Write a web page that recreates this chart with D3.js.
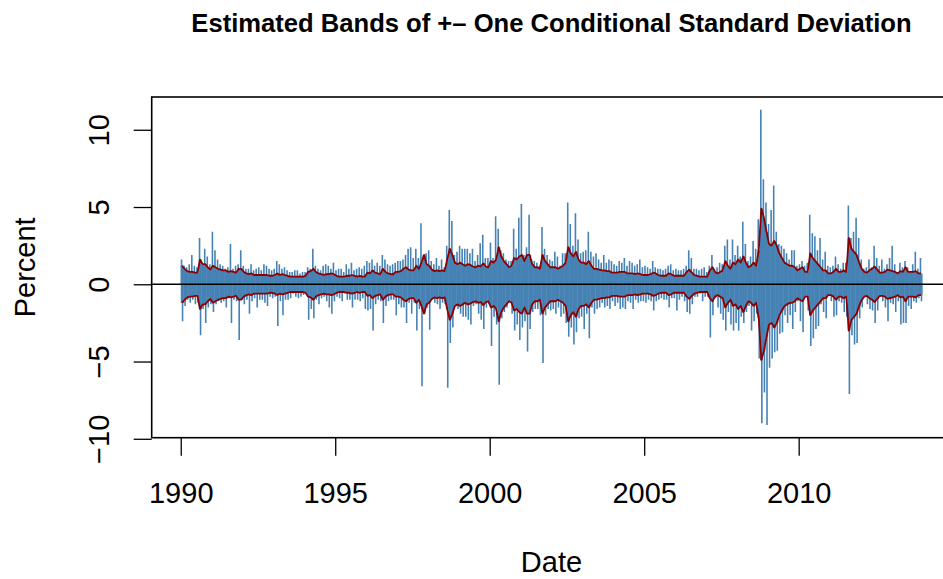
<!DOCTYPE html>
<html>
<head>
<meta charset="utf-8">
<script src="https://cdn.jsdelivr.net/npm/d3@7"></script>
<style>
  html, body { margin: 0; padding: 0; background: #ffffff; }
  svg { display: block; }
  text { font-family: "Liberation Sans", Arial, Helvetica, sans-serif; fill: #000; }
</style>
</head>
<body>
<svg id="chart" width="943" height="579"></svg>
<script>
// ---------------- data (monthly, Jan 1990 .. Dec 2013) ----------------
const startYear = 1990;
const xTickYears = [1990, 1995, 2000, 2005, 2010];
const yTickValues = [-10, -5, 0, 5, 10];
const titleText = "Estimated Bands of +\u2013 One Conditional Standard Deviation";
const xLabel = "Date";
const yLabel = "Percent";

// conditional standard deviation (percent), one value per month
const condSd = [
  1.2, 1.0, 0.85, 0.8, 0.8, 0.75, 0.75, 1.6, 1.3, 1.3, 1.1, 0.95,
  1.2, 1.1, 1.0, 0.95, 0.9, 0.9, 0.8, 0.85, 0.8, 0.75, 1.0, 1.0,
  0.8, 0.7, 0.65, 0.7, 0.6, 0.6, 0.6, 0.6, 0.6, 0.6, 0.55, 0.55,
  0.6, 0.7, 0.6, 0.65, 0.6, 0.55, 0.5, 0.5, 0.5, 0.5, 0.5, 0.5,
  0.55, 0.8, 0.85, 1.0, 0.8, 0.7, 0.65, 0.6, 0.65, 0.65, 0.7, 0.65,
  0.55, 0.5, 0.5, 0.5, 0.55, 0.55, 0.6, 0.55, 0.5, 0.55, 0.5, 0.5,
  0.75, 0.7, 0.9, 0.75, 0.7, 0.65, 1.0, 0.8, 0.7, 0.65, 0.65, 0.8,
  0.8, 0.85, 1.0, 1.1, 0.95, 0.9, 0.9, 1.2, 1.0, 1.4, 1.9, 1.3,
  1.2, 0.95, 0.85, 0.9, 0.85, 0.9, 0.85, 1.6, 2.3, 1.9, 1.4, 1.3,
  1.4, 1.3, 1.2, 1.3, 1.25, 1.15, 1.1, 1.2, 1.15, 1.35, 1.15, 1.1,
  1.5, 1.4, 1.6, 2.4, 1.8, 1.5, 1.3, 1.1, 1.2, 1.7, 1.6, 1.8,
  1.9, 1.5, 1.9, 1.9, 1.3, 1.1, 1.1, 1.0, 1.9, 1.5, 1.3, 1.1,
  1.1, 1.1, 1.0, 1.1, 1.2, 1.4, 2.4, 2.0, 1.8, 2.1, 1.6, 1.4,
  1.4, 1.3, 1.5, 1.2, 1.0, 1.0, 0.95, 0.9, 0.9, 0.85, 0.85, 0.75,
  0.75, 0.75, 0.8, 0.8, 0.8, 0.7, 0.7, 0.7, 0.65, 0.7, 0.65, 0.6,
  0.6, 0.6, 0.65, 0.75, 0.7, 0.6, 0.55, 0.55, 0.55, 0.7, 0.65, 0.55,
  0.55, 0.55, 0.55, 0.55, 0.8, 0.95, 0.75, 0.6, 0.55, 0.5, 0.5, 0.5,
  0.5, 0.9, 1.1, 0.8, 0.7, 0.8, 0.9, 1.5, 1.2, 1.0, 1.4, 1.3,
  1.6, 1.4, 1.8, 1.4, 1.1, 1.2, 1.4, 1.2, 2.2, 4.9, 4.3, 3.4,
  2.6, 2.5, 2.8, 2.5, 2.0, 1.7, 1.4, 1.3, 1.2, 1.2, 1.1, 0.9,
  1.0, 1.1, 0.8, 0.8, 2.0, 1.7, 1.5, 1.3, 1.1, 0.9, 0.9, 0.7,
  0.7, 0.8, 1.0, 0.8, 0.8, 0.9, 0.8, 3.0, 2.3, 2.1, 1.9, 1.4,
  1.0, 0.8, 0.75, 0.9, 1.0, 1.15, 0.95, 0.75, 0.75, 0.8, 0.95, 0.9,
  0.85, 0.8, 0.7, 0.85, 0.8, 1.1, 0.8, 0.8, 0.8, 0.85, 0.7, 0.7
];

// largest daily return within each month (percent)
const monthMax = [
  1.6, 1.2, 1.1, 1.3, 1.9, 1.2, 1.1, 3.0, 1.4, 2.3, 1.8, 1.3,
  3.4, 2.2, 1.6, 1.3, 1.2, 1.0, 1.1, 2.6, 1.0, 1.2, 1.3, 2.2,
  1.2, 1.0, 1.0, 1.3, 0.9, 1.0, 1.1, 0.9, 1.3, 1.2, 1.0, 0.9,
  1.0, 1.5, 1.3, 1.0, 1.1, 0.9, 0.8, 0.8, 0.9, 0.9, 0.7, 0.8,
  0.8, 1.1, 1.0, 2.3, 1.2, 1.0, 0.9, 1.2, 1.3, 1.2, 1.0, 1.4,
  0.9, 1.0, 1.0, 0.8, 1.3, 1.0, 1.4, 0.9, 1.0, 1.1, 1.0, 1.2,
  1.5, 1.4, 1.6, 1.2, 1.4, 1.2, 1.9, 1.6, 1.3, 1.2, 1.3, 1.4,
  1.5, 1.5, 1.6, 1.9, 2.3, 2.4, 1.7, 2.3, 1.7, 3.95, 1.9, 2.0,
  2.2, 1.5, 1.3, 1.7, 1.2, 1.6, 1.1, 2.5, 4.8, 4.1, 1.9, 2.1,
  2.5, 2.3, 2.3, 2.3, 2.0, 2.3, 1.5, 1.9, 2.65, 3.2, 1.7, 1.7,
  2.7, 1.7, 4.4, 3.6, 2.2, 2.0, 1.6, 1.5, 1.5, 3.6, 2.3, 4.3,
  5.2, 1.9, 2.4, 4.5, 1.6, 1.5, 1.4, 1.2, 3.7, 2.3, 1.9, 1.6,
  1.5, 2.1, 1.8, 1.2, 2.0, 2.0, 5.3, 3.9, 2.5, 4.6, 2.9, 2.0,
  2.1, 2.2, 3.4, 2.1, 1.8, 2.0, 1.6, 1.4, 1.9, 1.4, 1.6, 1.5,
  1.3, 1.2, 1.5, 1.4, 1.7, 1.2, 1.5, 1.4, 1.2, 1.3, 1.6, 1.1,
  1.2, 1.1, 1.0, 1.5, 1.1, 1.0, 1.0, 0.9, 1.0, 1.2, 1.3, 0.9,
  1.0, 0.9, 0.9, 1.0, 1.2, 2.2, 1.7, 1.0, 1.0, 0.9, 1.0, 1.1,
  0.8, 1.2, 1.9, 1.0, 1.1, 1.4, 1.3, 2.5, 2.9, 1.6, 2.9, 1.9,
  2.5, 1.8, 4.05, 2.6, 1.5, 1.8, 2.8, 2.3, 4.2, 11.3, 6.8, 5.3,
  3.9, 4.8, 6.4, 3.4, 2.6, 2.5, 2.3, 2.0, 1.6, 2.2, 2.2, 1.2,
  1.3, 1.5, 1.2, 1.4, 4.5, 3.3, 3.1, 2.2, 3.0, 1.6, 2.1, 1.2,
  1.1, 1.2, 1.8, 1.3, 1.0, 1.4, 1.4, 5.1, 3.0, 3.4, 4.3, 3.0,
  1.6, 1.0, 1.1, 1.6, 1.1, 2.5, 1.7, 1.2, 1.6, 1.0, 1.3, 1.7,
  2.5, 1.3, 0.8, 1.4, 1.1, 1.5, 1.1, 0.8, 1.3, 2.1, 1.0, 1.7
];

// smallest daily return within each month (percent)
const monthMin = [
  -2.4, -1.4, -1.0, -1.2, -1.0, -1.3, -1.2, -3.3, -1.6, -2.5, -1.5, -1.3,
  -1.8, -1.3, -1.1, -1.2, -1.1, -1.5, -0.9, -2.5, -1.0, -1.1, -3.6, -1.0,
  -1.3, -1.0, -1.9, -1.1, -0.9, -1.5, -1.0, -1.0, -1.2, -1.4, -0.8, -0.9,
  -0.8, -2.7, -1.1, -2.0, -1.0, -1.0, -0.9, -0.6, -0.8, -0.9, -0.8, -0.7,
  -0.6, -2.3, -1.6, -2.2, -1.0, -1.3, -0.9, -0.8, -1.1, -1.5, -1.9, -1.1,
  -0.8, -0.9, -1.1, -0.6, -1.0, -1.0, -1.5, -1.0, -1.0, -1.1, -0.9, -1.6,
  -1.7, -1.6, -3.0, -1.3, -1.0, -1.1, -2.5, -1.4, -1.1, -1.0, -1.0, -2.0,
  -1.3, -1.5, -1.5, -2.5, -1.2, -1.9, -1.2, -3.0, -1.6, -6.6, -1.6, -1.5,
  -2.95, -1.0, -1.2, -1.3, -1.6, -1.2, -1.3, -6.7, -3.8, -2.8, -1.3, -1.6,
  -1.9, -2.1, -2.1, -2.3, -2.6, -1.4, -1.3, -1.9, -2.3, -2.9, -1.5, -1.3,
  -4.0, -2.1, -2.6, -6.5, -2.2, -1.8, -1.5, -1.0, -1.9, -3.0, -2.6, -3.6,
  -2.8, -2.4, -4.35, -2.9, -1.8, -1.6, -1.6, -2.0, -5.1, -2.0, -1.6, -1.7,
  -1.6, -1.9, -1.5, -2.1, -1.9, -2.5, -3.4, -2.8, -3.9, -3.1, -2.2, -2.1,
  -2.9, -1.9, -3.5, -1.5, -1.9, -1.6, -1.5, -1.2, -1.5, -1.4, -1.6, -1.1,
  -1.4, -1.2, -1.6, -1.5, -1.6, -1.1, -1.2, -1.6, -1.0, -1.2, -1.1, -1.1,
  -1.2, -1.0, -1.1, -1.7, -1.1, -1.0, -0.9, -1.0, -1.0, -1.5, -0.9, -0.9,
  -1.7, -1.0, -0.8, -1.1, -1.8, -1.9, -1.3, -0.8, -0.8, -0.6, -1.1, -0.8,
  -0.8, -3.45, -2.0, -0.9, -1.5, -1.9, -2.3, -3.0, -1.8, -2.6, -3.0, -2.5,
  -3.0, -2.1, -2.5, -1.8, -1.4, -3.0, -2.4, -1.9, -4.8, -9.0, -7.0, -9.1,
  -5.4, -4.8, -4.4, -4.3, -3.2, -3.1, -2.0, -2.5, -2.0, -2.9, -1.8, -1.1,
  -2.4, -3.1, -0.8, -1.7, -4.0, -3.5, -2.9, -2.7, -1.3, -1.8, -2.2, -0.6,
  -1.1, -2.1, -2.0, -1.1, -1.2, -1.8, -2.1, -7.1, -3.3, -3.9, -3.8, -2.2,
  -1.5, -0.6, -1.3, -1.6, -1.7, -2.5, -1.7, -0.8, -1.1, -1.5, -2.4, -1.2,
  -1.3, -1.8, -1.1, -2.6, -2.5, -2.5, -1.4, -1.6, -1.1, -1.2, -0.9, -1.1
];

// ---------------- drawing ----------------
const months = condSd.map((sd, i) => ({
  t0: startYear + i / 12,
  t1: startYear + (i + 1) / 12,
  tm: startYear + (i + 0.5) / 12,
  sd: sd,
  hi: monthMax[i],
  lo: monthMin[i]
}));

const svg = d3.select("#chart");
const box = { left: 151.7, right: 951.3, top: 97, bottom: 437.7 };

const x = d3.scaleLinear().domain([1989.06, 2014.94]).range([box.left, box.right]);
const y = d3.scaleLinear().domain([-9.93, 12.12]).range([box.bottom, box.top]);

const blue = "#4682B4";
const red = "#8B0000";

svg.append("defs").append("clipPath").attr("id", "plotclip")
  .append("rect")
  .attr("x", box.left).attr("y", box.top)
  .attr("width", box.right - box.left).attr("height", box.bottom - box.top);

const plot = svg.append("g").attr("clip-path", "url(#plotclip)");

// solid core of the daily returns
plot.append("g").selectAll("rect").data(months).join("rect")
  .attr("x", d => x(d.t0))
  .attr("width", d => x(d.t1) - x(d.t0) + 0.3)
  .attr("y", d => y(d.sd))
  .attr("height", d => y(-d.sd) - y(d.sd))
  .attr("fill", blue);

// spikes (type = "h" lines)
plot.append("g").selectAll("line").data(months).join("line")
  .attr("x1", d => x(d.t0 + 0.3 / 12)).attr("x2", d => x(d.t0 + 0.3 / 12))
  .attr("y1", y(0)).attr("y2", d => y(d.hi))
  .attr("stroke", blue).attr("stroke-width", 1.6);
plot.append("g").selectAll("line").data(months).join("line")
  .attr("x1", d => x(d.t0 + 0.7 / 12)).attr("x2", d => x(d.t0 + 0.7 / 12))
  .attr("y1", y(0)).attr("y2", d => y(d.lo))
  .attr("stroke", blue).attr("stroke-width", 1.6);

// zero line
plot.append("line")
  .attr("x1", box.left).attr("x2", box.right)
  .attr("y1", y(0)).attr("y2", y(0))
  .attr("stroke", "#000").attr("stroke-width", 1.6);

// +- one conditional sd bands
const upper = d3.line().x(d => x(d.tm)).y(d => y(d.sd));
const lower = d3.line().x(d => x(d.tm)).y(d => y(-d.sd));
plot.append("path").attr("d", upper(months))
  .attr("fill", "none").attr("stroke", red).attr("stroke-width", 1.8).attr("stroke-linejoin", "round");
plot.append("path").attr("d", lower(months))
  .attr("fill", "none").attr("stroke", red).attr("stroke-width", 1.8).attr("stroke-linejoin", "round");

// box
svg.append("rect")
  .attr("x", box.left).attr("y", box.top)
  .attr("width", box.right - box.left).attr("height", box.bottom - box.top)
  .attr("fill", "none").attr("stroke", "#000").attr("stroke-width", 1.6);

const fs = 29;

// x axis
const xAxis = svg.append("g")
  .attr("transform", `translate(0,${box.bottom})`)
  .call(d3.axisBottom(x).tickValues(xTickYears).tickFormat(d3.format("d"))
    .tickSize(18).tickPadding(27));
xAxis.select(".domain").remove();
xAxis.selectAll(".tick line").attr("stroke", "#000").attr("stroke-width", 1.3);
xAxis.selectAll(".tick text").style("font-size", fs + "px")
  .style("font-family", "'Liberation Sans', Arial, sans-serif").attr("fill", "#000");

// y axis
const yAxis = svg.append("g")
  .attr("transform", `translate(${box.left},0)`)
  .call(d3.axisLeft(y).tickValues(yTickValues)
    .tickFormat(d => d < 0 ? "\u2212" + Math.abs(d) : String(d))
    .tickSize(18));
yAxis.select(".domain").remove();
yAxis.selectAll(".tick line").attr("stroke", "#000").attr("stroke-width", 1.3);
yAxis.selectAll(".tick text")
  .attr("x", null).attr("dy", null)
  .attr("transform", `translate(${109 - box.left},0) rotate(-90)`)
  .attr("text-anchor", "middle")
  .style("font-size", fs + "px")
  .style("font-family", "'Liberation Sans', Arial, sans-serif").attr("fill", "#000");

// axis titles
svg.append("text")
  .attr("x", (box.left + box.right) / 2).attr("y", 572)
  .attr("text-anchor", "middle").style("font-size", fs + "px")
  .text(xLabel);
svg.append("text")
  .attr("transform", `translate(35,${(box.top + box.bottom) / 2}) rotate(-90)`)
  .attr("text-anchor", "middle").style("font-size", fs + "px")
  .text(yLabel);

// title
svg.append("text")
  .attr("x", (box.left + box.right) / 2).attr("y", 31.5)
  .attr("text-anchor", "middle")
  .style("font-size", "25.6px").style("font-weight", "bold")
  .text(titleText);
</script>
</body>
</html>
